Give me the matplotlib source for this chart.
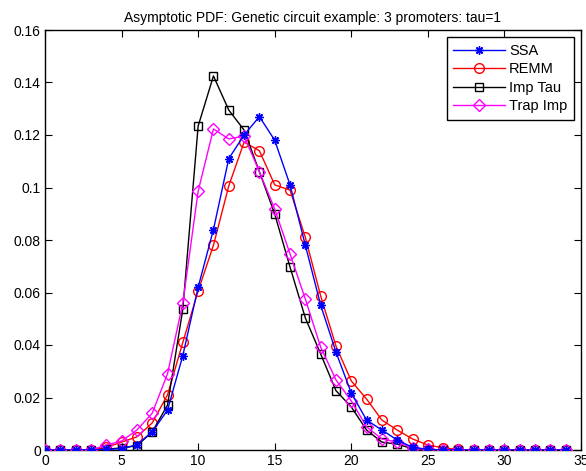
import numpy as np
import matplotlib
matplotlib.use('Agg')
import matplotlib.pyplot as plt

plt.rcParams['font.family'] = ['Liberation Sans', 'DejaVu Sans']

# x = number of molecules 0..34
x = np.arange(0, 35)

ssa = [0, 0, 0, 0, 0.0002, 0.0005, 0.002, 0.0069, 0.0152, 0.036,
       0.062, 0.084, 0.111, 0.120, 0.127, 0.118, 0.101, 0.078, 0.0552, 0.0373,
       0.0217, 0.0114, 0.0076, 0.0038, 0.001, 0.0003, 0, 0, 0, 0,
       0, 0, 0, 0, 0]
remm = [0, 0, 0, 0, 0.001, 0.003, 0.005, 0.0103, 0.021, 0.041,
        0.0606, 0.078, 0.1006, 0.1173, 0.114, 0.101, 0.099, 0.081, 0.0587, 0.0396,
        0.0263, 0.0194, 0.0114, 0.0076, 0.0042, 0.0019, 0.0008, 0.0002, 0, 0,
        0, 0, 0, 0, 0]
imp_tau = [0, 0, 0, 0, 0.0003, 0.0008, 0.0016, 0.0069, 0.0171, 0.0537,
           0.1234, 0.1425, 0.1295, 0.1219, 0.106, 0.0899, 0.0697, 0.0503, 0.0366, 0.0226,
           0.0164, 0.0076, 0.003, 0.0022, 0.0005, 0.0001, 0, 0, 0, 0,
           0, 0, 0, 0, 0]
trap_imp = [0, 0, 0, 0, 0.0019, 0.0034, 0.0076, 0.014, 0.029, 0.056,
            0.0986, 0.1223, 0.1185, 0.1196, 0.106, 0.0918, 0.0747, 0.0575, 0.0392, 0.0267,
            0.0187, 0.0088, 0.0042, 0.003, 0.0008, 0.0002, 0, 0, 0, 0,
            0, 0, 0, 0, 0]

fig = plt.figure(figsize=(5.86, 4.71), dpi=100)
ax = fig.add_axes([45 / 586, 21 / 471, 536 / 586, 420 / 471])

ms = 6
ax.plot(x, ssa, color='blue', marker=(8, 2, 0), ms=ms, lw=1, label='SSA', zorder=5)
ax.plot(x, remm, color='red', marker='o', mfc='none', ms=ms + 1, lw=1, label='REMM', zorder=3)
ax.plot(x, imp_tau, color='black', marker='s', mfc='none', ms=ms, lw=1, label='Imp Tau', zorder=3)
ax.plot(x, trap_imp, color='magenta', marker='D', mfc='none', ms=ms, lw=1, label='Trap Imp', zorder=4)

ax.set_xlim(0, 35)
ax.set_ylim(0, 0.16)
ax.set_xticks(np.arange(0, 36, 5))
ax.set_yticks(np.arange(0, 0.161, 0.02))
ax.set_yticklabels(['0', '0.02', '0.04', '0.06', '0.08', '0.1', '0.12', '0.14', '0.16'])
ax.tick_params(direction='in', top=True, right=True, length=5, labelsize=10, pad=3)
for s in ax.spines.values():
    s.set_linewidth(1)

ax.set_title('Asymptotic PDF: Genetic circuit example: 3 promoters: tau=1', fontsize=10, pad=6)

leg = ax.legend(loc='upper right', fontsize=10.5, fancybox=False, framealpha=1,
                edgecolor='black', borderaxespad=0.5, handlelength=3.5,
                labelspacing=0.3, borderpad=0.45, handletextpad=0.3)
leg.get_frame().set_linewidth(1)

fig.savefig('out.png', dpi=100)
